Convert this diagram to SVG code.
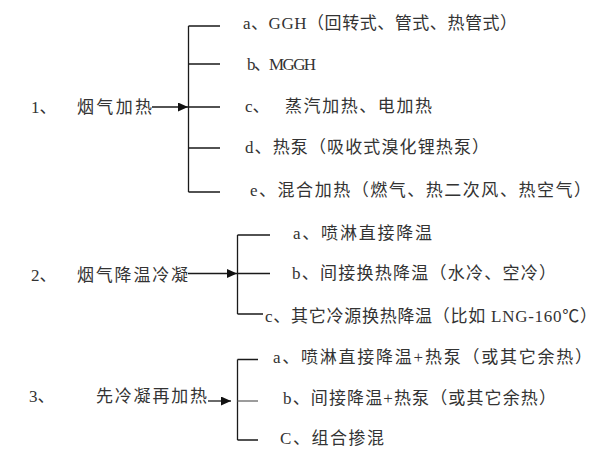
<svg xmlns="http://www.w3.org/2000/svg" width="608" height="451" viewBox="0 0 608 451">
<style>
text{font-family:"Liberation Serif","Noto Sans CJK SC",serif;font-size:17px;fill:#333}
.ln{stroke:#1a1a1a;stroke-width:1.3;fill:none}
.g{stroke:#666}
</style>
<defs>
<marker id="ah" viewBox="0 0 10 10" refX="10" refY="5" markerWidth="10" markerHeight="9" markerUnits="userSpaceOnUse" orient="auto" preserveAspectRatio="none">
<path d="M0,0L10,5L0,10Z" fill="#111"/>
</marker>
</defs>
<rect width="608" height="451" fill="#fff"/>
<g id="connectors">
<path class="ln" d="M188.5,26V192M188.5,26H220M188.5,64H220M188.5,107H220M188.5,148H220M188.5,192H220"/>
<path class="ln" d="M152,107H188" marker-end="url(#ah)"/>
<path class="ln" d="M237.5,235V314M237.5,235H270M237.5,273.5H270M237.5,314H263"/>
<path class="ln" d="M188,273.5H237" marker-end="url(#ah)"/>
<path class="ln" d="M237.5,359.5V440M237.5,359.5H258M237.5,440H258"/>
<path class="ln g" d="M237.5,401H258"/>
<path class="ln" d="M208,401H231" marker-end="url(#ah)"/>
</g>
<g id="n1"><text y="113"><tspan x="31">1、</tspan><tspan x="77" textLength="75">烟气加热</tspan></text></g>
<g id="n1a"><text x="243" y="29" textLength="274">a、GGH（回转式、管式、热管式）</text></g>
<g id="n1b"><text x="247" y="70" textLength="69">b、MGGH</text></g>
<g id="n1c"><text y="112"><tspan x="245">c、</tspan><tspan x="285" textLength="147">蒸汽加热、电加热</tspan></text></g>
<g id="n1d"><text x="245" y="153" textLength="244">d、热泵（吸收式溴化锂热泵）</text></g>
<g id="n1e"><text x="250" y="196" textLength="341">e、混合加热（燃气、热二次风、热空气）</text></g>
<g id="n2"><text y="281"><tspan x="31">2、</tspan><tspan x="77" textLength="111">烟气降温冷凝</tspan></text></g>
<g id="n2a"><text x="293" y="239" textLength="139">a、喷淋直接降温</text></g>
<g id="n2b"><text x="292" y="279" textLength="264">b、间接换热降温（水冷、空冷）</text></g>
<g id="n2c"><text x="265" y="322" textLength="332">c、其它冷源换热降温（比如 LNG-160℃）</text></g>
<g id="n3"><text y="402"><tspan x="29">3、</tspan><tspan x="96" textLength="111">先冷凝再加热</tspan></text></g>
<g id="n3a"><text x="273" y="363" textLength="319">a、喷淋直接降温+热泵（或其它余热）</text></g>
<g id="n3b"><text x="283" y="404" textLength="273">b、间接降温+热泵（或其它余热）</text></g>
<g id="n3c"><text x="280" y="444" textLength="104">C、组合掺混</text></g>
</svg>
